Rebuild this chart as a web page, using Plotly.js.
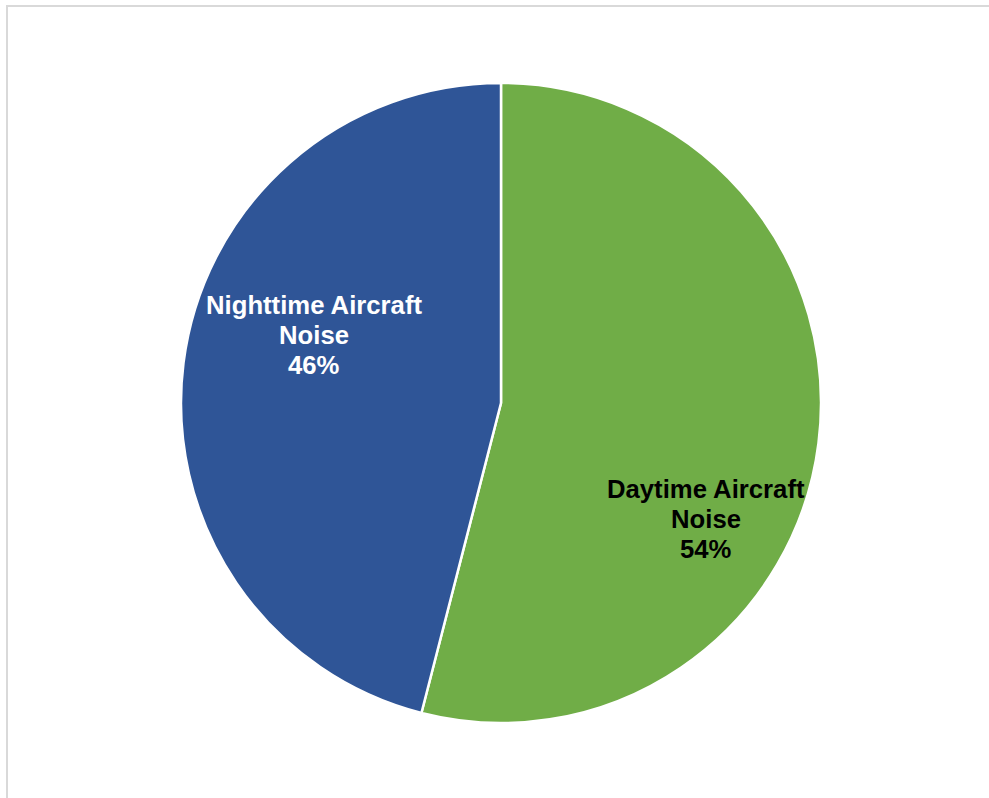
<!DOCTYPE html>
<html>
<head>
<meta charset="utf-8">
<script src="https://cdn.plot.ly/plotly-3.0.1.min.js"></script>
<style>
  html, body { margin: 0; padding: 0; background: #ffffff; }
  #wrap { position: relative; width: 989px; height: 798px; overflow: hidden; }
  #chart { position: absolute; left: 0; top: 0; width: 989px; height: 798px; }
  #frame { position: absolute; left: 6px; top: 5px; width: 1100px; height: 1000px;
           border: 2px solid #d9d9d9; pointer-events: none; box-sizing: border-box; }
</style>
</head>
<body>
<div id="wrap">
  <div id="chart"></div>
  <div id="frame"></div>
</div>
<script>
// Data
var categories = ["Daytime Aircraft Noise", "Nighttime Aircraft Noise"];
var labelLines = [["Daytime Aircraft", "Noise"], ["Nighttime Aircraft", "Noise"]];
var values = [54, 46];
var colors = ["#70AD47", "#2F5597"];
var textColors = ["#000000", "#ffffff"];

var W = 989, H = 798;
var total = values.reduce(function (a, b) { return a + b; }, 0);

var trace = {
  type: "pie",
  labels: categories,
  values: values,
  sort: false,
  direction: "clockwise",
  rotation: 0,
  textinfo: "none",
  hoverinfo: "label+percent",
  marker: { colors: colors, line: { color: "#ffffff", width: 2.5 } },
  domain: { x: [181 / W, 821 / W], y: [1 - 723 / H, 1 - 83 / H] },
  showlegend: false
};

// label anchor (pixel center of first line) and line spacing for each slice's data label
var labelPos = [[706, 489], [314, 305]];
var lineGap = 30;
var annotations = [];
categories.forEach(function (c, i) {
  var pct = Math.round(values[i] / total * 100) + "%";
  var lines = labelLines[i].concat([pct]);
  lines.forEach(function (ln, j) {
    annotations.push({
      xref: "paper", yref: "paper",
      x: labelPos[i][0] / W, y: 1 - (labelPos[i][1] + j * lineGap) / H,
      xanchor: "center", yanchor: "middle",
      showarrow: false,
      text: "<b>" + ln + "</b>",
      font: { family: "Liberation Sans, Arial, sans-serif", size: 25.7, color: textColors[i] }
    });
  });
});

var layout = {
  width: W, height: H,
  margin: { l: 0, r: 0, t: 0, b: 0 },
  paper_bgcolor: "#ffffff",
  annotations: annotations,
  showlegend: false
};

Plotly.newPlot("chart", [trace], layout, { displayModeBar: false, staticPlot: true });
</script>
</body>
</html>
